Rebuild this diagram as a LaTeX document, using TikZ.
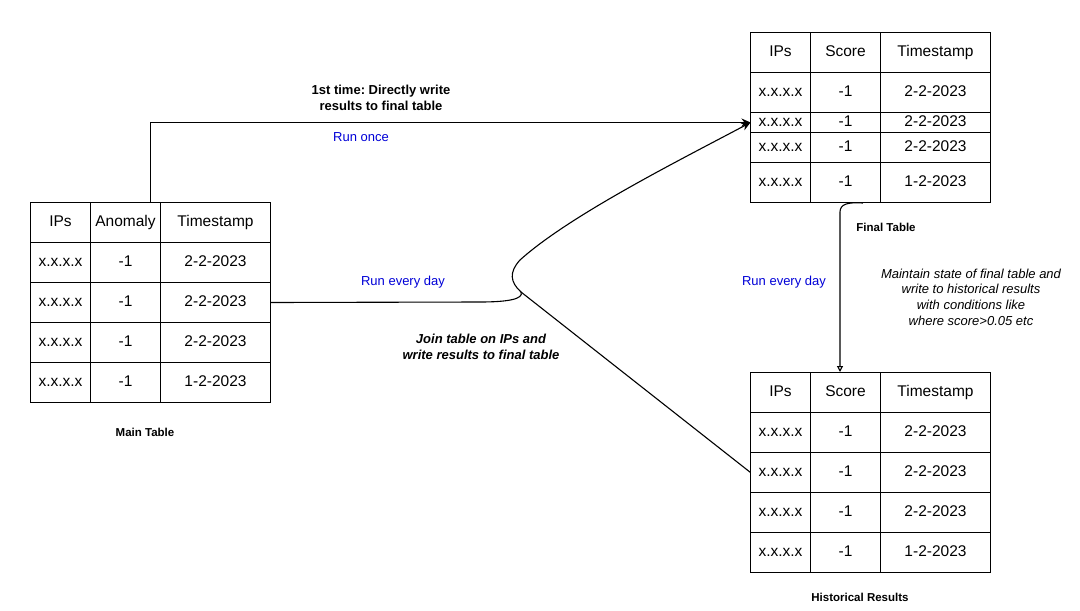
\documentclass[tikz,border=0pt]{standalone}
\usepackage{fontspec}
\setmainfont{Liberation Sans}
\usetikzlibrary{matrix,arrows.meta}
\definecolor{runblue}{RGB}{0,0,215}
\frenchspacing
\begin{document}
\begin{tikzpicture}[x=1pt,y=-1pt,
  tbl/.style={matrix of nodes, inner sep=0pt, outer sep=0pt, anchor=north west,
    column sep=-1pt, row sep=-1pt,
    nodes={draw, line width=1pt, inner sep=0pt, minimum height=40pt,
      text height=11pt, text depth=3pt,
      font=\fontsize{15.5}{18}\selectfont, anchor=center},
    column 1/.style={nodes={minimum width=60pt}},
    column 2/.style={nodes={minimum width=70pt}},
    column 3/.style={nodes={minimum width=110pt}}},
  tbllbl/.style={font=\fontsize{11.5}{14}\selectfont\bfseries},
  note/.style={font=\fontsize{13}{15.7}\selectfont, align=center},
  bnote/.style={note, font=\fontsize{13}{15.7}\selectfont\bfseries},
  inote/.style={note, font=\fontsize{13}{15.7}\selectfont\itshape},
  binote/.style={note, font=\fontsize{13}{15.7}\selectfont\bfseries\itshape},
  run/.style={note, text=runblue},
  conn/.style={draw, line width=1.1pt},
  arr/.style={-{Stealth[length=9pt,width=8pt]}},
  arrd/.style={-{Triangle[open,length=6pt,width=6pt]}}
]
\useasboundingbox (0,0) rectangle (1080,611);

% Main table
\matrix (m) [tbl] at (30,202) {
  IPs & Anomaly & Timestamp \\
  x.x.x.x & -1 & 2-2-2023 \\
  x.x.x.x & -1 & 2-2-2023 \\
  x.x.x.x & -1 & 2-2-2023 \\
  x.x.x.x & -1 & 1-2-2023 \\
};

% Final table
\matrix (f) [tbl, row 3/.style={nodes={minimum height=20pt}},
  row 4/.style={nodes={minimum height=30pt}}] at (750,32) {
  IPs & Score & Timestamp \\
  x.x.x.x & -1 & 2-2-2023 \\
  x.x.x.x & -1 & 2-2-2023 \\
  x.x.x.x & -1 & 2-2-2023 \\
  x.x.x.x & -1 & 1-2-2023 \\
};

% Historical table
\matrix (h) [tbl] at (750,372) {
  IPs & Score & Timestamp \\
  x.x.x.x & -1 & 2-2-2023 \\
  x.x.x.x & -1 & 2-2-2023 \\
  x.x.x.x & -1 & 2-2-2023 \\
  x.x.x.x & -1 & 1-2-2023 \\
};

% Table labels
\node[tbllbl] (mainlbl) at (145,432) {Main Table};
\node[tbllbl] (finallbl) at (886,227) {Final Table};
\node[tbllbl] (histlbl) at (860,597) {Historical Results};

% Notes
\node[bnote] (first) at (381,97.5) {1st time: Directly write\\results to final table};
\node[run] (once) at (361,137.5) {Run once};
\node[run] (daily1) at (403,282) {Run every day};
\node[binote] (join) at (481,347) {Join table on IPs and\\write results to final table};
\node[run] (daily2) at (784,282) {Run every day};
\node[inote] (maint) at (971,297) {Maintain state of final table and\\write to historical results\\with conditions like\\where score>0.05 etc};

% Connectors
\coordinate (j) at (521,292);
\coordinate (fs) at (840,203);
\coordinate (fsh) at (863,203);

\draw[conn, arr] (m.north) |- (f-3-1.west);
\draw[conn] (m-3-3.east) -- (480,302) .. controls (508,302) and (524,299) .. (j);
\draw[conn, arr] (j) .. controls (510,282) and (509,272) .. (520,260)
   .. controls (570,215) and (680,160) .. (f-3-1.west);
\draw[conn] (j) -- (h-3-1.west);
\draw[conn, arrd] (fsh) .. controls (848,202) and (840,204) .. (fs |- 0,212) -- (fs |- h.north);
\end{tikzpicture}
\end{document}
